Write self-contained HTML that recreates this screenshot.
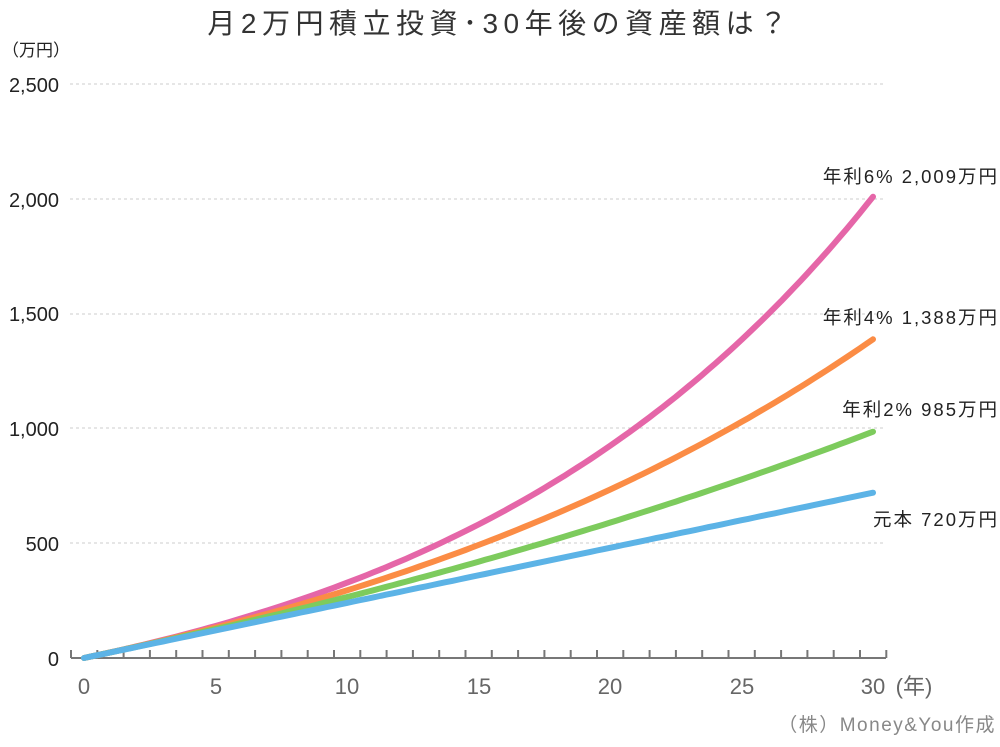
<!DOCTYPE html>
<html><head><meta charset="utf-8"><style>
html,body{margin:0;padding:0;background:#fff;}
svg text{font-family:"Liberation Sans","Noto Sans CJK JP",sans-serif;}
</style></head><body>
<svg id="s" width="1000" height="742" xmlns="http://www.w3.org/2000/svg">
<text x="500" y="33" text-anchor="middle" font-size="28" letter-spacing="5.5" fill="#333">月2万円積立投資･30年後の資産額は？</text>
<text x="2" y="56" font-size="17" fill="#222">（万円）</text>
<g font-size="20" fill="#222" text-anchor="end">
<text x="59" y="92">2,500</text>
<text x="59" y="207">2,000</text>
<text x="59" y="321">1,500</text>
<text x="59" y="436">1,000</text>
<text x="59" y="551">500</text>
<text x="59" y="666">0</text>
</g>
<g stroke="#ccc" stroke-width="1" stroke-dasharray="3,3">
<line x1="70" y1="84" x2="884" y2="84"/>
<line x1="70" y1="199" x2="884" y2="199"/>
<line x1="70" y1="314" x2="884" y2="314"/>
<line x1="70" y1="428" x2="884" y2="428"/>
<line x1="70" y1="543" x2="884" y2="543"/>
</g>
<g id="ax" stroke="#777" stroke-width="2"><line x1="71" y1="658" x2="886" y2="658"/></g>
<g font-size="22" fill="#666" text-anchor="middle">
<text x="84" y="694">0</text><text x="216" y="694">5</text><text x="347" y="694">10</text>
<text x="479" y="694">15</text><text x="610" y="694">20</text><text x="742" y="694">25</text>
<text x="873" y="694">30</text><text x="914" y="694">(年)</text>
</g>
<text x="996" y="731" text-anchor="end" font-size="19" letter-spacing="1.5" fill="#888">（株）Money&amp;You作成</text>
<g id="lines" fill="none" stroke-width="6" stroke-linecap="round" stroke-linejoin="round"></g>
<g font-size="18.5" fill="#222" text-anchor="end" letter-spacing="2">
<text x="999" y="183">年利6%  2,009万円</text>
<text x="999" y="324">年利4%  1,388万円</text>
<text x="999" y="416">年利2%  985万円</text>
<text x="999" y="526">元本  720万円</text>
</g>
</svg>
<script>
var ns="http://www.w3.org/2000/svg";
var ax=document.getElementById("ax");
for(var i=0;i<=31;i++){var x=71+i*26.3;var l=document.createElementNS(ns,"line");l.setAttribute("x1",x);l.setAttribute("x2",x);l.setAttribute("y1",650);l.setAttribute("y2",658);ax.appendChild(l);}
var g=document.getElementById("lines");
var ser=[[0,"#5cb3e6"],[0.02,"#7dcb5d"],[0.04,"#fb8c45"],[0.06,"#e566a8"]];
ser.reverse();
ser.forEach(function(s){var r=s[0],pts=[];
for(var m=0;m<=360;m+=3){var t=m/12;var v=r==0?2*m:2*(Math.pow(1+r/12,m)-1)/(r/12);
pts.push((84+t*26.3).toFixed(1)+","+(658-v*0.2296).toFixed(1));}
var p=document.createElementNS(ns,"polyline");p.setAttribute("points",pts.join(" "));p.setAttribute("stroke",s[1]);g.appendChild(p);});
</script>
</body></html>
